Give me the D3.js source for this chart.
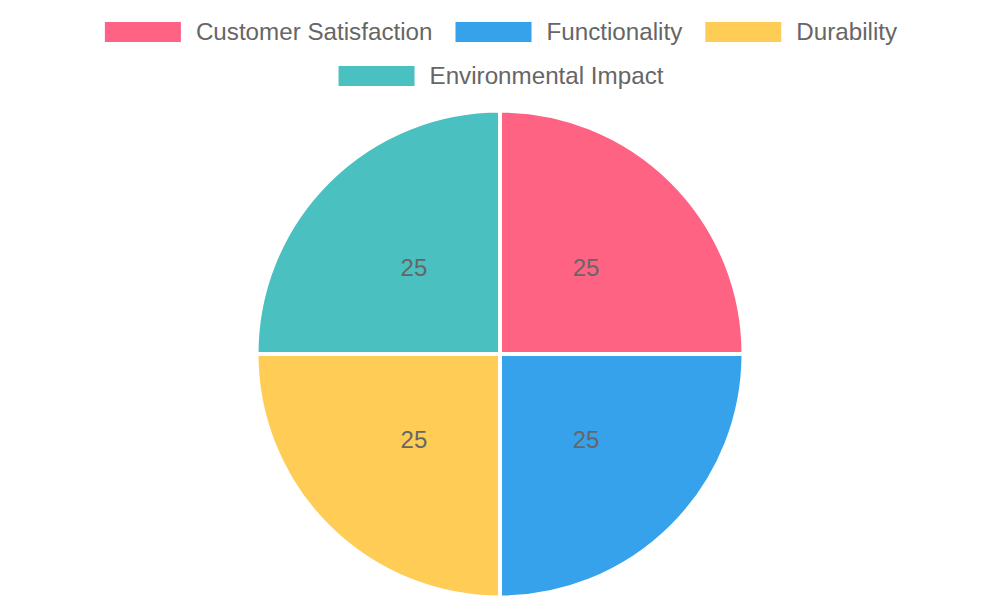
<!DOCTYPE html>
<html>
<head>
<meta charset="utf-8">
<script src="https://cdn.jsdelivr.net/npm/d3@7"></script>
<style>
  body { margin: 0; background: #fff; }
  svg { display: block; font-family: "Liberation Sans", Arial, sans-serif; }
</style>
</head>
<body>
<svg id="chart" width="1000" height="600"></svg>
<script>
'use strict';
(function() {
	// data
	var labels = ['Customer Satisfaction', 'Functionality', 'Durability', 'Environmental Impact'];
	var values = [25, 25, 25, 25];
	var colors = ['#FF6384', '#36A2EB', '#FFCD56', '#4BC0C0'];

	var width = 1000, height = 600;
	var svg = d3.select('#chart');

	/***************************************
	 * LEGEND
	 ***************************************/
	var rows = [[0, 1, 2], [3]];
	var rowY = [32, 76];
	var boxW = 76, boxH = 20, textGap = 15, itemGap = 23;

	rows.forEach(function(row, ri) {
		var g = svg.append('g').attr('class', 'legendRow');
		var x = 0;
		row.forEach(function(i) {
			var item = g.append('g').attr('transform', 'translate(' + x + ',0)');
			item.append('rect')
				.attr('x', 0).attr('y', -boxH / 2)
				.attr('width', boxW).attr('height', boxH)
				.attr('fill', colors[i]);
			var t = item.append('text')
				.attr('x', boxW + textGap).attr('y', 0)
				.attr('dy', '0.35em')
				.attr('font-size', 24.2)
				.attr('fill', '#666')
				.text(labels[i]);
			x += boxW + textGap + t.node().getComputedTextLength() + itemGap;
		});
		var total = x - itemGap;
		g.attr('transform', 'translate(' + ((width - total) / 2 + 1) + ',' + rowY[ri] + ')');
	});

	/***************************************
	 * PIE
	 ***************************************/
	var cx = 500, cy = 354, r = 243.5;
	var pie = d3.pie().sort(null).value(function(d) { return d; });
	var arc = d3.arc().innerRadius(0).outerRadius(r);
	var arcs = pie(values);

	var pg = svg.append('g').attr('transform', 'translate(' + cx + ',' + cy + ')');
	pg.selectAll('path')
		.data(arcs)
		.enter().append('path')
			.attr('d', arc)
			.attr('fill', function(d, i) { return colors[i]; })
			.attr('stroke', '#fff')
			.attr('stroke-width', 4)
			.attr('stroke-linejoin', 'bevel');

	pg.selectAll('text')
		.data(arcs)
		.enter().append('text')
			.attr('transform', function(d) { return 'translate(' + arc.centroid(d) + ')'; })
			.attr('text-anchor', 'middle')
			.attr('dy', '0.35em')
			.attr('font-size', 24)
			.attr('fill', '#666')
			.text(function(d) { return d.value; });
})();
</script>
</body>
</html>
